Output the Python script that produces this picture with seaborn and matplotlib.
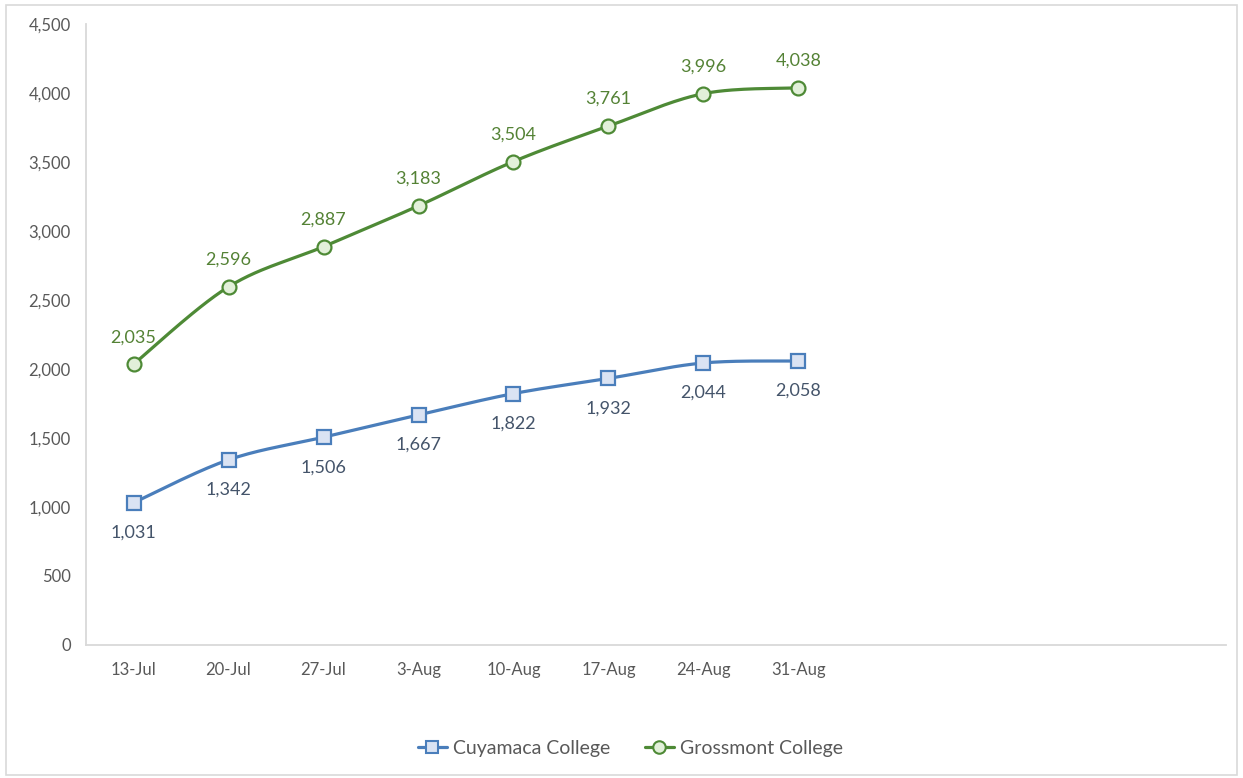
import numpy as np
import pandas as pd
import matplotlib
matplotlib.use('Agg')
import matplotlib.pyplot as plt
import seaborn as sns
from matplotlib.ticker import FuncFormatter
from matplotlib.patches import Rectangle
from matplotlib.lines import Line2D

# Data
weeks = ['13-Jul', '20-Jul', '27-Jul', '3-Aug', '10-Aug', '17-Aug', '24-Aug', '31-Aug']
cuyamaca = [1031, 1342, 1506, 1667, 1822, 1932, 2044, 2058]
grossmont = [2035, 2596, 2887, 3183, 3504, 3761, 3996, 4038]
n_slots = 12  # empty category slots on the axis

blue, blue_face, blue_text = '#4a7ebb', '#dae3f3', '#44546a'
green, green_face, green_text = '#4e8a36', '#e2f0d9', '#548235'
axis_grey = '#d9d9d9'
text_grey = '#595959'


def smooth(y, steps=30):
    # Catmull-Rom style smoothing like Excel's smoothed line
    x = np.arange(len(y), dtype=float)
    y = np.asarray(y, dtype=float)
    px = np.concatenate([[x[0]], x, [x[-1]]])
    py = np.concatenate([[y[0]], y, [y[-1]]])
    xs, ys = [], []
    for i in range(1, len(px) - 2):
        p0, p1, p2, p3 = [np.array([px[j], py[j]]) for j in (i - 1, i, i + 1, i + 2)]
        c1 = p1 + (p2 - p0) / 6
        c2 = p2 - (p3 - p1) / 6
        t = np.linspace(0, 1, steps)[:, None]
        b = (1 - t) ** 3 * p1 + 3 * (1 - t) ** 2 * t * c1 + 3 * (1 - t) * t ** 2 * c2 + t ** 3 * p2
        xs.extend(b[:, 0])
        ys.extend(b[:, 1])
    return xs, ys


sns.set_style('white')
plt.rcParams['font.family'] = ['Lato', 'DejaVu Sans']

fig = plt.figure(figsize=(12.43, 7.78), dpi=100)
ax = fig.add_axes([0.0692, 0.171, 0.9171, 0.798])

for vals, col, face, mk, tcol, off in [
    (cuyamaca, blue, blue_face, 's', blue_text, -30),
    (grossmont, green, green_face, 'o', green_text, 27),
]:
    sx, sy = smooth(vals)
    sns.lineplot(x=sx, y=sy, ax=ax, color=col, lw=2.3, sort=False, estimator=None)
    ax.plot(range(len(vals)), vals, ls='none', marker=mk, ms=10,
            mfc=face, mec=col, mew=1.6, zorder=5)
    for i, v in enumerate(vals):
        ax.annotate(f'{v:,}', (i, v), xytext=(0, off), textcoords='offset pixels',
                    ha='center', va='center', fontsize=13, color=tcol)

ax.set_xlim(-0.5, n_slots - 0.5)
ax.set_ylim(0, 4500)
ax.set_yticks(range(0, 4501, 500))
ax.yaxis.set_major_formatter(FuncFormatter(lambda v, p: f'{int(v):,}'))
ax.set_xticks(range(len(weeks)))
ax.set_xticklabels(weeks)
ax.set_xticks(np.arange(-0.5, n_slots, 1), minor=True)
ax.tick_params(axis='x', which='major', length=0, pad=12, labelsize=12, labelcolor=text_grey)
ax.tick_params(axis='x', which='minor', length=6, color=axis_grey, width=1.3, direction='out')
ax.tick_params(axis='y', length=6, color=axis_grey, width=1.3, labelsize=12,
               labelcolor=text_grey, pad=5, direction='out')

for s in ['top', 'right']:
    ax.spines[s].set_visible(False)
for s in ['left', 'bottom']:
    ax.spines[s].set_color(axis_grey)
    ax.spines[s].set_linewidth(1.3)

handles = [
    Line2D([], [], color=blue, lw=2.3, marker='s', ms=9, mfc=blue_face, mec=blue, mew=1.5),
    Line2D([], [], color=green, lw=2.3, marker='o', ms=9, mfc=green_face, mec=green, mew=1.5),
]
fig.legend(handles, ['Cuyamaca College', 'Grossmont College'], loc='center',
           bbox_to_anchor=(0.507, 0.038), ncol=2, frameon=False, fontsize=14,
           labelcolor=text_grey, handlelength=1.5, columnspacing=1.8, handletextpad=0.3)

fig.add_artist(Rectangle((0.005, 0.004), 0.99, 0.99, transform=fig.transFigure,
                         fill=False, ec=axis_grey, lw=1.2))

fig.savefig('out.png', dpi=100)
